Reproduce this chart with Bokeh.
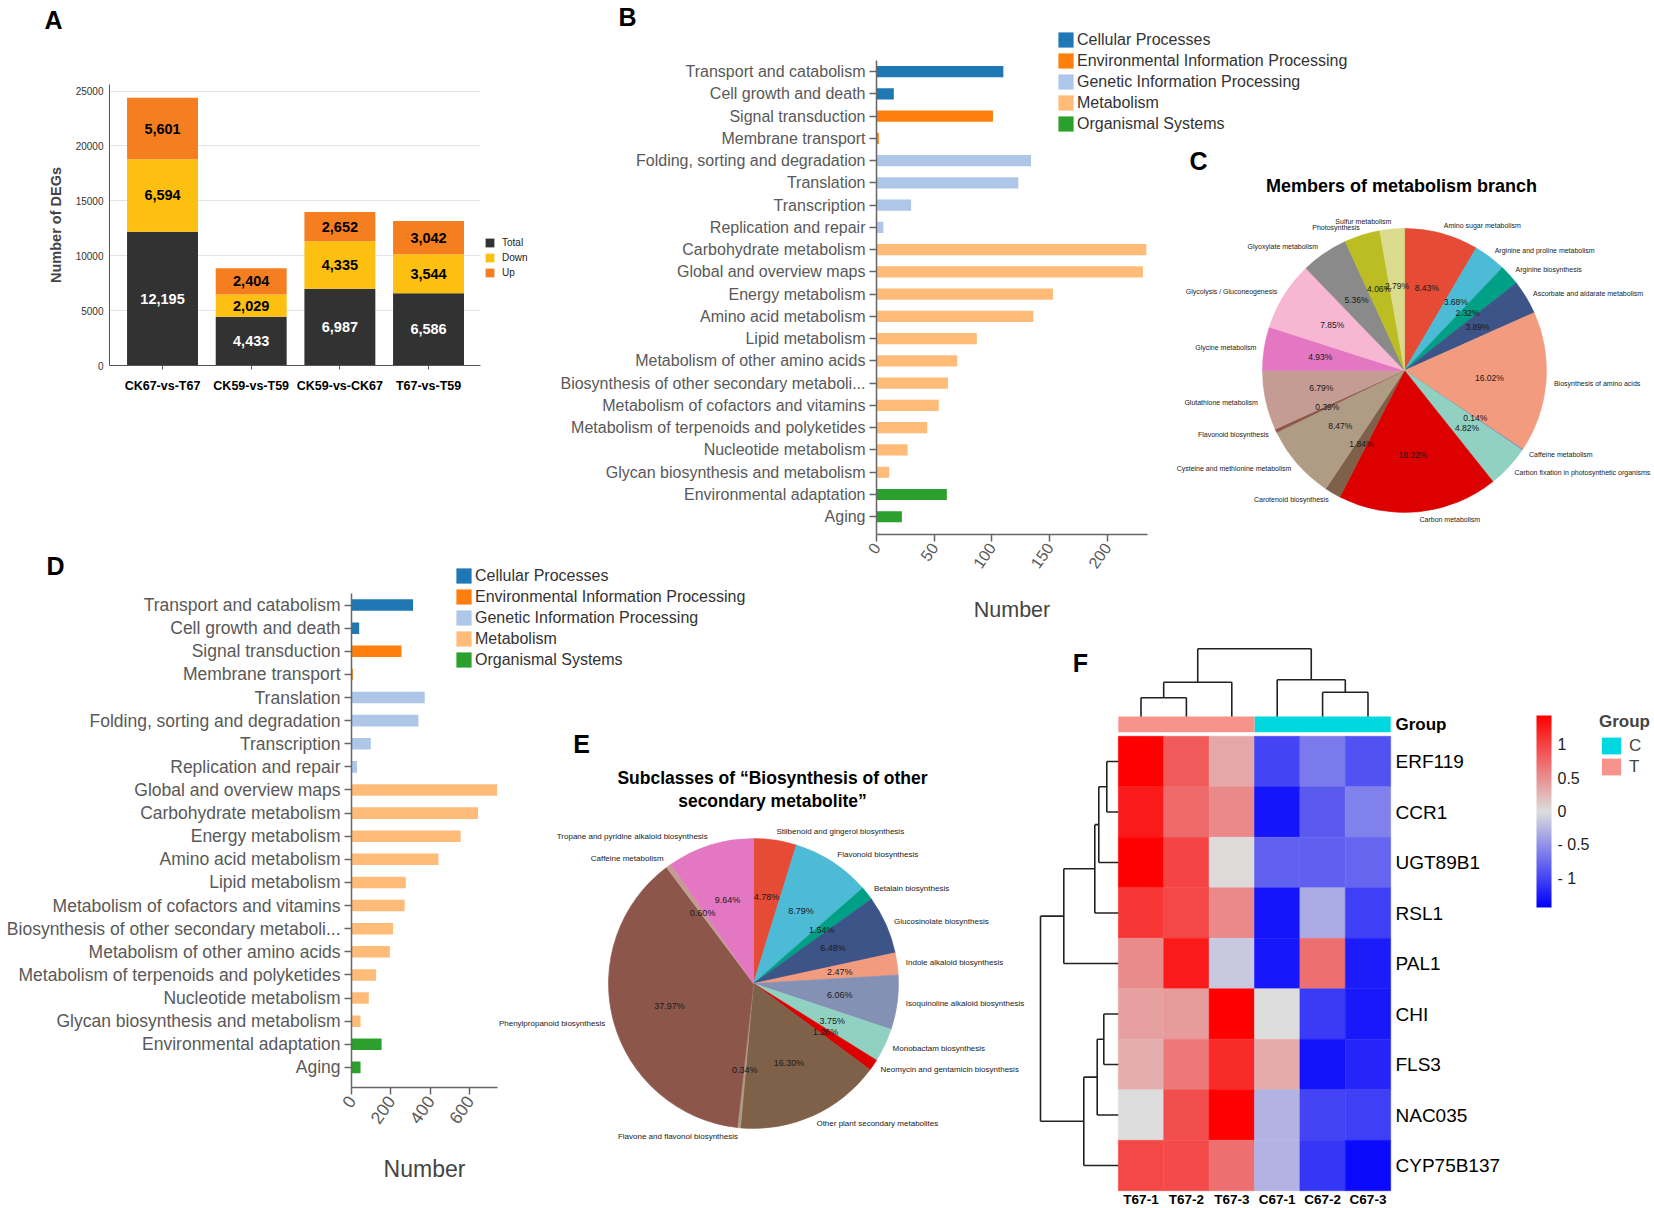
import math
import numpy as np
from bokeh.plotting import figure
from bokeh.models import (Range1d, FixedTicker, Legend, LegendItem,
                          ColumnDataSource, LinearColorMapper, ColorBar)
from bokeh.core.properties import value
from bokeh.embed import file_html
from bokeh.resources import INLINE

FONT = "Liberation Sans"

# ---------------- Panel A : numbers of DEGs ----------------
a_groups = ["CK67-vs-T67", "CK59-vs-T59", "CK59-vs-CK67", "T67-vs-T59"]
a_series = ["Total", "Down", "Up"]
a_total = [12195, 4433, 6987, 6586]
a_down = [6594, 2029, 4335, 3544]
a_up = [5601, 2404, 2652, 3042]
a_colors = ["#323232", "#FDC010", "#F57E20"]
a_yticks = [0, 5000, 10000, 15000, 20000, 25000]

# ---------------- KEGG classes (B, D) ----------------
kegg_classes = ["Cellular Processes", "Environmental Information Processing",
                "Genetic Information Processing", "Metabolism", "Organismal Systems"]
kegg_colors = ["#1F77B4", "#FF7F0E", "#AEC7E8", "#FFBB78", "#2CA02C"]

b_terms = ["Transport and catabolism", "Cell growth and death", "Signal transduction",
           "Membrane transport", "Folding, sorting and degradation", "Translation",
           "Transcription", "Replication and repair", "Carbohydrate metabolism",
           "Global and overview maps", "Energy metabolism", "Amino acid metabolism",
           "Lipid metabolism", "Metabolism of other amino acids",
           "Biosynthesis of other secondary metaboli...", "Metabolism of cofactors and vitamins",
           "Metabolism of terpenoids and polyketides", "Nucleotide metabolism",
           "Glycan biosynthesis and metabolism", "Environmental adaptation", "Aging"]
b_class = [0, 0, 1, 1, 2, 2, 2, 2, 3, 3, 3, 3, 3, 3, 3, 3, 3, 3, 3, 4, 4]
b_counts = [110, 15, 101, 2, 134, 123, 30, 6, 234, 231, 153, 136, 87, 70, 62, 54, 44, 27, 11, 61, 22]
b_xticks = [0, 50, 100, 150, 200]

d_terms = ["Transport and catabolism", "Cell growth and death", "Signal transduction",
           "Membrane transport", "Translation", "Folding, sorting and degradation",
           "Transcription", "Replication and repair", "Global and overview maps",
           "Carbohydrate metabolism", "Energy metabolism", "Amino acid metabolism",
           "Lipid metabolism", "Metabolism of cofactors and vitamins",
           "Biosynthesis of other secondary metaboli...", "Metabolism of other amino acids",
           "Metabolism of terpenoids and polyketides", "Nucleotide metabolism",
           "Glycan biosynthesis and metabolism", "Environmental adaptation", "Aging"]
d_class = [0, 0, 1, 1, 2, 2, 2, 2, 3, 3, 3, 3, 3, 3, 3, 3, 3, 3, 3, 4, 4]
d_counts = [313, 39, 254, 7, 372, 340, 98, 28, 740, 643, 555, 442, 276, 270, 211, 195, 125, 88, 46, 153, 46]
d_xticks = [0, 200, 400, 600]

# ---------------- C : members of metabolism branch ----------------
c_labels = ["Amino sugar metabolism", "Arginine and proline metabolism", "Arginine biosynthesis",
            "Ascorbate and aldarate metabolism", "Biosynthesis of amino acids", "Caffeine metabolism",
            "Carbon fixation in photosynthetic organisms", "Carbon metabolism",
            "Carotenoid biosynthesis", "Cysteine and methionine metabolism",
            "Flavonoid biosynthesis", "Glutathione metabolism", "Glycine metabolism",
            "Glycolysis / Gluconeogenesis", "Glyoxylate  metabolism", "Photosynthesis",
            "Sulfur metabolism"]
c_pcts = [8.43, 3.68, 2.32, 3.89, 16.02, 0.14, 4.82, 18.22, 1.84, 8.47, 0.39, 6.79, 4.93,
          7.85, 5.36, 4.06, 2.79]
c_colors = ["#E64B35", "#4DBBD5", "#00A087", "#3C5488", "#F39B7F", "#8491B4", "#91D1C2",
            "#DC0000", "#7E6148", "#B09C85", "#8C564B", "#C49C94", "#E377C2", "#F7B6D2",
            "#8A8A8A", "#BCBD22", "#DBDB8D"]

# ---------------- E : subclasses of biosynthesis of other secondary metabolites ----------------
e_labels = ["Stilbenoid and gingerol biosynthesis", "Flavonoid biosynthesis", "Betalain biosynthesis",
            "Glucosinolate biosynthesis", "Indole alkaloid biosynthesis",
            "Isoquinoline alkaloid biosynthesis", "Monobactam biosynthesis",
            "Neomycin and gentamicin biosynthesis", "Other plant secondary metabolites",
            "Flavone and flavonol biosynthesis", "Phenylpropanoid biosynthesis",
            "Caffeine metabolism", "Tropane and pyridine alkaloid biosynthesis"]
e_pcts = [4.78, 8.79, 1.54, 6.48, 2.47, 6.06, 3.75, 1.26, 16.30, 0.34, 37.97, 0.60, 9.64]
e_colors = ["#E64B35", "#4DBBD5", "#00A087", "#3C5488", "#F39B7F", "#8491B4", "#91D1C2",
            "#DC0000", "#7E6148", "#B09C85", "#8C564B", "#C49C94", "#E377C2"]

# ---------------- F : heatmap ----------------
f_genes = ["ERF119", "CCR1", "UGT89B1", "RSL1", "PAL1", "CHI", "FLS3", "NAC035", "CYP75B137"]
f_samples = ["T67-1", "T67-2", "T67-3", "C67-1", "C67-2", "C67-3"]
f_sample_group = ["T", "T", "T", "C", "C", "C"]
f_group_names = ["C", "T"]
f_group_colors = ["#00D8E0", "#F8938B"]
f_values = [
    [1.44, 0.85, 0.35, -1.00, -0.65, -0.90],
    [1.27, 0.75, 0.55, -1.30, -0.85, -0.60],
    [1.44, 1.00, 0.03, -0.80, -0.82, -0.78],
    [1.08, 0.97, 0.55, -1.30, -0.33, -1.03],
    [0.53, 1.27, -0.14, -1.29, 0.71, -1.25],
    [0.40, 0.43, 1.44, 0.00, -1.05, -1.28],
    [0.31, 0.66, 1.17, 0.33, -1.31, -1.20],
    [0.00, 0.93, 1.44, -0.27, -1.00, -1.03],
    [0.97, 0.95, 0.71, -0.27, -1.08, -1.37],
]
# linkage: (node a, node b, merge height); new nodes numbered after leaves
f_col_linkage = [(0, 1, 1.87), (6, 2, 3.43), (4, 5, 2.43), (3, 8, 3.67), (7, 9, 6.77)]
f_row_linkage = [(0, 1, 1.15), (9, 2, 1.95), (10, 3, 2.35), (11, 4, 5.45),
                 (5, 6, 1.45), (13, 7, 2.11), (14, 8, 3.45), (12, 15, 7.78)]
f_scale_ticks = [-1, -0.5, 0, 0.5, 1]
f_scale_labels = ["- 1", "- 0.5", "0", "0.5", "1"]


# ======================================================================
def make_fig(left, top, width, height, xr, yr, mb=(0, 0, 0, 0), axes=True):
    kw = {} if axes else dict(x_axis_type=None, y_axis_type=None)
    p = figure(width=width, height=height, x_range=xr, y_range=yr,
               output_backend="svg", toolbar_location=None,
               min_border_top=mb[0], min_border_right=mb[1],
               min_border_bottom=mb[2], min_border_left=mb[3],
               background_fill_color=None, border_fill_color=None,
               outline_line_color=None, **kw)
    p.styles = {"position": "absolute", "left": f"{left}px", "top": f"{top}px"}
    return p


def letter_fig(txt, cx, cy, size="25px"):
    p = make_fig(cx - 18, cy - 18, 36, 36, Range1d(-1, 1), Range1d(-1, 1), axes=False)
    p.text(x=[0], y=[0], text=[txt], text_align="center", text_baseline="middle",
           text_font=value(FONT), text_font_size=size, text_font_style="bold", text_color="black")
    return p


def add_legend(p, names, rends, gw, gh, lh, spacing, standoff, size, color):
    for r in rends:
        r.visible = False      # legend proxies only; the bars are drawn in the chart itself
    leg = Legend(items=[LegendItem(label=n, renderers=[r]) for n, r in zip(names, rends)],
                 location="top_left", glyph_width=gw, glyph_height=gh, label_height=lh,
                 spacing=spacing, label_standoff=standoff, padding=0, margin=0,
                 border_line_color=None, background_fill_alpha=0, label_text_font=FONT,
                 label_text_font_size=size, label_text_color=color)
    p.add_layout(leg, "center")


def style_axis(ax, size, color="#595959"):
    ax.axis_line_color = "#666666"
    ax.axis_line_width = 1.5
    ax.major_tick_line_color = "#666666"
    ax.major_tick_line_width = 1.5
    ax.major_tick_out = 7
    ax.major_tick_in = 0
    ax.minor_tick_line_color = None
    ax.major_label_text_font = FONT
    ax.major_label_text_font_size = size
    ax.major_label_text_color = color


# ---------------- Panel A ----------------
A_L, A_T, A_W, A_H = 8, 8, 547, 412
A_mb = (76, 75, 55, 101)
pA = make_fig(A_L, A_T, A_W, A_H, Range1d(-0.598, 3.586), Range1d(0, 25600), A_mb)
srcA = ColumnDataSource(dict(x=list(range(len(a_groups))), Total=a_total, Down=a_down, Up=a_up))
pA.vbar_stack(a_series, x="x", width=0.8, fill_color=a_colors, line_color=None, source=srcA)

tx, ty, tt, tc = [], [], [], []
for i in range(len(a_groups)):
    base = 0
    for vals, col in ((a_total, "white"), (a_down, "black"), (a_up, "black")):
        v = vals[i]
        tx.append(i); ty.append(base + v / 2); tt.append(f"{v:,}"); tc.append(col)
        base += v
pA.text(x=tx, y=ty, text=tt, text_color=tc, text_align="center", text_baseline="middle",
        text_font=value(FONT), text_font_size="14.5px", text_font_style="bold")

pA.xgrid.visible = False
pA.ygrid.ticker = FixedTicker(ticks=a_yticks)
pA.ygrid.grid_line_color = "#E4E4E4"
pA.xaxis.ticker = FixedTicker(ticks=list(range(len(a_groups))))
pA.xaxis.major_label_overrides = {i: g for i, g in enumerate(a_groups)}
pA.xaxis.major_label_text_font = FONT
pA.xaxis.major_label_text_font_style = "bold"
pA.xaxis.major_label_text_font_size = "12.5px"
pA.xaxis.major_label_text_color = "black"
pA.xaxis.axis_line_color = "#555555"
pA.xaxis.major_tick_line_color = "#555555"
pA.xaxis.major_tick_out = 4
pA.xaxis.major_tick_in = 0
pA.xaxis.minor_tick_line_color = None
pA.xaxis.major_label_standoff = 9
pA.yaxis.ticker = FixedTicker(ticks=a_yticks)
pA.yaxis.axis_line_color = "#555555"
pA.yaxis.major_tick_line_color = None
pA.yaxis.major_tick_out = 0
pA.yaxis.major_tick_in = 0
pA.yaxis.minor_tick_line_color = None
pA.yaxis.major_label_text_font = FONT
pA.yaxis.major_label_text_font_size = "10px"
pA.yaxis.major_label_text_color = "#333333"
pA.yaxis.major_label_standoff = 6
pA.yaxis.axis_label = "Number of DEGs"
pA.yaxis.axis_label_text_font = FONT
pA.yaxis.axis_label_text_font_style = "bold"
pA.yaxis.axis_label_text_font_size = "14.5px"
pA.yaxis.axis_label_standoff = 9

legA = make_fig(484, 237, 72, 54, Range1d(0, 1), Range1d(0, 1), axes=False)
proxA = legA.vbar_stack(a_series, x="x", width=0.8, fill_color=a_colors, line_color=None, source=srcA)
add_legend(legA, a_series, proxA, 11, 11, 10, 4, 7, "10px", "#222222")
letA = letter_fig("A", 53, 19)


# ---------------- KEGG bar panels ----------------
def kegg_bars(p, classes, counts):
    rends = []
    for ci, cname in enumerate(kegg_classes):
        idx = [i for i, c in enumerate(classes) if c == ci]
        src = ColumnDataSource(dict(y=idx, right=[counts[i] for i in idx]))
        rends.append(p.hbar(y="y", left=0, right="right", height=0.5, fill_color=kegg_colors[ci],
                            line_color=None, source=src))
    return rends


def kegg_panel(p, terms, classes, counts, ticks, lab_size, title_size, standoff):
    kegg_bars(p, classes, counts)
    p.grid.visible = False
    p.yaxis.ticker = FixedTicker(ticks=list(range(len(terms))))
    p.yaxis.major_label_overrides = {i: t for i, t in enumerate(terms)}
    p.xaxis.ticker = FixedTicker(ticks=ticks)
    p.xaxis.major_label_orientation = math.radians(55)
    style_axis(p.xaxis, lab_size)
    style_axis(p.yaxis, lab_size)
    p.yaxis.major_label_standoff = 4
    p.xaxis.major_label_standoff = 3
    p.xaxis.axis_label = "Number"
    p.xaxis.axis_label_text_font = FONT
    p.xaxis.axis_label_text_font_style = "normal"
    p.xaxis.axis_label_text_font_size = title_size
    p.xaxis.axis_label_text_color = "#444444"
    p.xaxis.axis_label_standoff = standoff


def kegg_legend(left, top, classes, counts):
    p = make_fig(left, top, 312, 112, Range1d(0, 1), Range1d(0, 1), axes=False)
    rends = kegg_bars(p, classes, counts)
    add_legend(p, kegg_classes, rends, 19, 19, 15, 2, 2, "16px", "#333333")
    return p


B_L, B_T, B_W, B_H = 530, 8, 640, 632
B_mb = (52, 23, 106, 346)
pB = make_fig(B_L, B_T, B_W, B_H, Range1d(0, 235), Range1d(20.8, -0.5), B_mb)
kegg_panel(pB, b_terms, b_class, b_counts, b_xticks, "16px", "21.5px", 22)
legB = kegg_legend(1056, 30, b_class, b_counts)
letB = letter_fig("B", 627, 16)

D_L, D_T, D_W, D_H = 0, 545, 540, 655
D_mb = (48, 43, 113, 351)
pD = make_fig(D_L, D_T, D_W, D_H, Range1d(0, 742), Range1d(20.87, -0.5), D_mb)
kegg_panel(pD, d_terms, d_class, d_counts, d_xticks, "17.5px", "23px", 24)
legD = kegg_legend(454, 566, d_class, d_counts)
letD = letter_fig("D", 55, 565)


# ---------------- pies ----------------
def draw_pie(p, labels, pcts, colors, lab_r, pct_r, lab_size, pct_size):
    fr = np.array(pcts, dtype=float) / float(sum(pcts))
    cum = np.concatenate([[0.0], np.cumsum(fr)])
    start = np.pi / 2 - cum[1:] * 2 * np.pi
    end = np.pi / 2 - cum[:-1] * 2 * np.pi
    mid = (start + end) / 2
    src = ColumnDataSource(dict(start=start, end=end, color=colors))
    p.wedge(x=0, y=0, radius=1, start_angle="start", end_angle="end", fill_color="color",
            line_color="color", line_width=0.6, source=src)
    p.text(x=pct_r * np.cos(mid), y=pct_r * np.sin(mid), text=[f"{v:.2f}%" for v in pcts],
           text_align="center", text_baseline="middle", text_font=value(FONT),
           text_font_size=pct_size, text_color="#1a1a1a")
    for side, sel in (("left", np.cos(mid) >= 0), ("right", np.cos(mid) < 0)):
        p.text(x=lab_r * np.cos(mid[sel]), y=lab_r * np.sin(mid[sel]),
               text=[l for l, s in zip(labels, sel) if s], text_align=side, text_baseline="middle",
               text_font=value(FONT), text_font_size=lab_size, text_color="#1a1a1a")


def data_text(p, x, y, txt, size, bold=True, align="center"):
    p.text(x=[x], y=[y], text=[txt], text_align=align, text_baseline="middle",
           text_font=value(FONT), text_font_size=size,
           text_font_style="bold" if bold else "normal", text_color="black")


C_L, C_T, C_W, C_H = 1165, 140, 489, 390
C_R = 142.0
C_cx, C_cy = 1404, 370
pC = make_fig(C_L, C_T, C_W, C_H,
              Range1d((C_L - C_cx) / C_R, (C_L + C_W - C_cx) / C_R),
              Range1d((C_cy - C_T - C_H) / C_R, (C_cy - C_T) / C_R), axes=False)
draw_pie(pC, c_labels, c_pcts, c_colors, 1.056, 0.6, "7px", "8.5px")
data_text(pC, (1401 - C_cx) / C_R, (C_cy - 185) / C_R, "Members of metabolism branch", "18px")
data_text(pC, (1198 - C_cx) / C_R, (C_cy - 160) / C_R, "C", "25px")

E_L, E_T, E_W, E_H = 490, 725, 545, 475
E_R = 145.0
E_cx, E_cy = 753, 983
pE = make_fig(E_L, E_T, E_W, E_H,
              Range1d((E_L - E_cx) / E_R, (E_L + E_W - E_cx) / E_R),
              Range1d((E_cy - E_T - E_H) / E_R, (E_cy - E_T) / E_R), axes=False)
draw_pie(pE, e_labels, e_pcts, e_colors, 1.06, 0.6, "8px", "9px")
data_text(pE, (772 - E_cx) / E_R, (E_cy - 777) / E_R, "Subclasses of \u201cBiosynthesis of other", "17.5px")
data_text(pE, (772 - E_cx) / E_R, (E_cy - 800) / E_R, "secondary metabolite\u201d", "17.5px")
data_text(pE, (581 - E_cx) / E_R, (E_cy - 743) / E_R, "E", "25px")

# ---------------- F heatmap ----------------
F_L, F_T, F_W, F_H = 1036, 640, 618, 568
F_cw, F_rh = 45.4, 50.5
F_x0, F_y0 = 1140.5, 761.0
pF = make_fig(F_L, F_T, F_W, F_H,
              Range1d((F_L - F_x0) / F_cw, (F_L + F_W - F_x0) / F_cw),
              Range1d((F_T + F_H - F_y0) / F_rh, (F_T - F_y0) / F_rh), axes=False)


def ramp(c1, c2, n):
    out = []
    for k in range(n):
        t = k / (n - 1)
        out.append("#%02x%02x%02x" % tuple(int(round(a + (b - a) * t)) for a, b in zip(c1, c2)))
    return out


palette = ramp((0, 0, 255), (221, 221, 221), 128) + ramp((221, 221, 221), (255, 0, 0), 128)
mapper = LinearColorMapper(palette=palette, low=-1.44, high=1.44)

hx, hy, hv = [], [], []
for r, row in enumerate(f_values):
    for c, v in enumerate(row):
        hx.append(c); hy.append(r); hv.append(v)
pF.rect(x="x", y="y", width=1, height=1, source=ColumnDataSource(dict(x=hx, y=hy, v=hv)),
        fill_color={"field": "v", "transform": mapper},
        line_color={"field": "v", "transform": mapper}, line_width=0.5)

grp_y = (723.8 - F_y0) / F_rh
grp_h = 15.7 / F_rh
grp_rends = {}
for g, col in zip(f_group_names, f_group_colors):
    xs = [i for i, s in enumerate(f_sample_group) if s == g]
    grp_rends[g] = pF.rect(x=[sum(xs) / len(xs)], y=[grp_y], width=len(xs), height=grp_h,
                           fill_color=col, line_color=None)
data_text(pF, (1395 - F_x0) / F_cw, grp_y, "Group", "17px", align="left")


def dendro(n_leaves, linkage):
    pos = list(range(n_leaves)); hts = [0.0] * n_leaves
    segs = []
    for a, b, h in linkage:
        segs.append((pos[a], hts[a], pos[a], h))
        segs.append((pos[b], hts[b], pos[b], h))
        segs.append((pos[a], h, pos[b], h))
        pos.append((pos[a] + pos[b]) / 2); hts.append(h)
    return segs


dend_px = 10.0
col_base = (716 - F_y0) / F_rh
cs = dendro(len(f_samples), f_col_linkage)
pF.segment(x0=[s[0] for s in cs], y0=[col_base - s[1] * dend_px / F_rh for s in cs],
           x1=[s[2] for s in cs], y1=[col_base - s[3] * dend_px / F_rh for s in cs],
           line_color="#222222", line_width=1.6)
rs_ = dendro(len(f_genes), f_row_linkage)
pF.segment(y0=[s[0] for s in rs_], x0=[-0.5 - s[1] * dend_px / F_cw for s in rs_],
           y1=[s[2] for s in rs_], x1=[-0.5 - s[3] * dend_px / F_cw for s in rs_],
           line_color="#222222", line_width=1.6)

pF.text(x=[(1395 - F_x0) / F_cw] * len(f_genes), y=list(range(len(f_genes))), text=f_genes,
        text_align="left", text_baseline="middle", text_font=value(FONT), text_font_size="19px",
        text_color="black")
pF.text(x=list(range(len(f_samples))), y=[(1199 - F_y0) / F_rh] * len(f_samples), text=f_samples,
        text_align="center", text_baseline="middle", text_font=value(FONT), text_font_size="13.5px",
        text_font_style="bold", text_color="black")
data_text(pF, (1080 - F_x0) / F_cw, (662 - F_y0) / F_rh, "F", "25px")

cb = ColorBar(color_mapper=mapper, ticker=FixedTicker(ticks=f_scale_ticks),
              major_label_overrides={float(t): l for t, l in zip(f_scale_ticks, f_scale_labels)},
              width=15, height=192, location=(1536 - F_L, F_T + F_H - 907), padding=0, margin=0,
              major_tick_line_color=None, minor_tick_line_color=None, bar_line_color=None,
              background_fill_alpha=0, border_line_color=None, label_standoff=6,
              major_label_text_font=FONT, major_label_text_font_size="16px",
              major_label_text_color="#222222")
pF.add_layout(cb, "center")

legF = Legend(title="Group", items=[LegendItem(label=g, renderers=[grp_rends[g]]) for g in f_group_names],
              location=(1599 - F_L, F_T + F_H - 777), glyph_width=24, glyph_height=21,
              label_height=17, spacing=0, label_standoff=6, padding=0, margin=0,
              border_line_color=None, background_fill_alpha=0, label_text_font=FONT,
              label_text_font_size="17px", title_text_font=FONT, title_text_font_size="17px",
              title_text_font_style="bold", title_standoff=3)
pF.add_layout(legF, "center")

roots = [pA, legA, letA, pB, legB, letB, pD, legD, letD, pC, pE, pF]
open("out.html", "w").write(file_html(roots, INLINE, title="DEG figure"))
